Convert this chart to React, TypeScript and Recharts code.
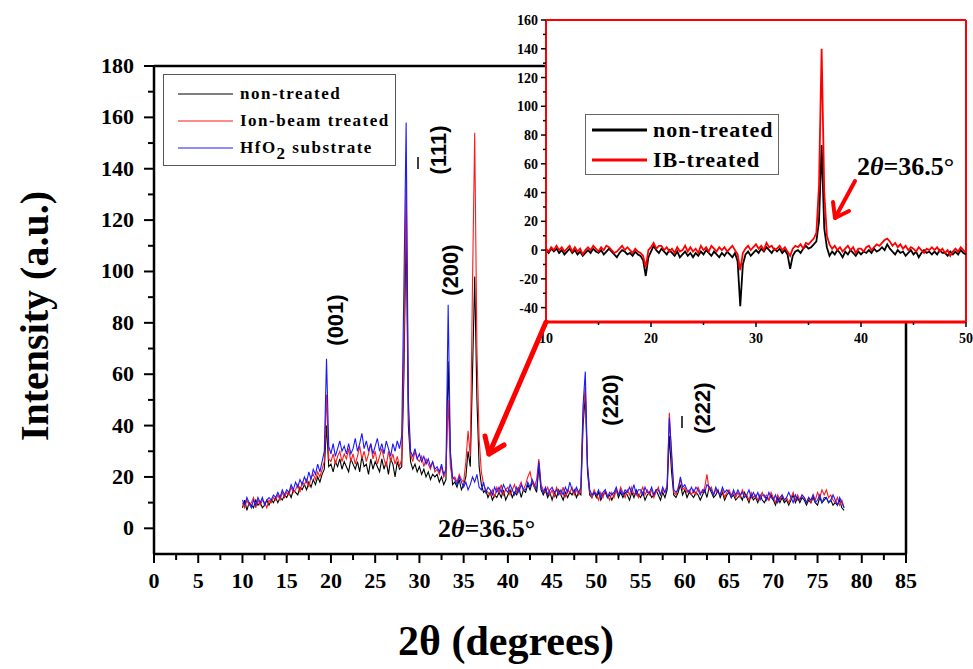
import React from 'react';
import { LineChart, Line, XAxis, YAxis, ReferenceLine, Legend } from 'recharts';

const SERIF = '"Liberation Serif", "Times New Roman", serif';
const SANS = '"Liberation Sans", Arial, sans-serif';

// 2θ scan grid: starts at 10°, one reading every 0.25°
const scanStart = 10;
const scanStep = 0.25;

// main panel, 10° .. 78°
const nonTreated = [
  8, 11, 7, 10, 9, 8, 11, 9,
  10, 8, 9, 11, 9, 11, 10, 12,
  10, 12, 11, 13, 12, 14, 12, 15,
  14, 13, 16, 15, 17, 15, 18, 16,
  19, 17, 20, 18, 21, 23, 40, 24,
  25, 22, 26, 24, 27, 23, 26, 24,
  22, 27, 25, 23, 26, 22, 28, 24,
  25, 21, 27, 23, 26, 24, 22, 27,
  23, 26, 21, 27, 25, 20, 26, 23,
  24, 60, 118, 40, 26, 23, 25, 22,
  24, 21, 23, 20, 22, 19, 21, 20,
  21, 18, 20, 17, 19, 65, 28, 17,
  18, 16, 19, 15, 17, 20, 30, 24,
  60, 98, 50, 24, 17, 14, 15, 12,
  14, 11, 13, 12, 14, 12, 15, 11,
  13, 15, 12, 14, 13, 16, 12, 15,
  14, 17, 15, 18, 16, 14, 24, 15,
  13, 15, 12, 14, 11, 14, 12, 15,
  13, 11, 14, 12, 14, 13, 15, 12,
  14, 13, 40, 52, 22, 13, 12, 14,
  12, 14, 11, 13, 14, 12, 13, 11,
  13, 15, 12, 14, 12, 14, 13, 11,
  14, 12, 15, 13, 12, 14, 11, 13,
  14, 12, 13, 15, 13, 11, 14, 12,
  15, 36, 22, 13, 12, 14, 17, 13,
  15, 12, 14, 13, 12, 14, 13, 11,
  13, 15, 12, 16, 14, 12, 13, 15,
  12, 14, 11, 13, 14, 12, 13, 11,
  12, 13, 11, 14, 12, 10, 13, 11,
  12, 10, 13, 11, 10, 12, 11, 13,
  11, 9, 12, 10, 12, 10, 11, 9,
  11, 13, 10, 12, 10, 12, 11, 9,
  11, 10, 12, 10, 9, 12, 10, 11,
  12, 10, 11, 9, 10, 9, 11, 8,
  7,
];

const ionBeamTreated = [
  10, 8, 11, 9, 10, 12, 8, 11,
  9, 11, 10, 8, 11, 10, 12, 11,
  13, 11, 14, 12, 14, 13, 16, 14,
  15, 17, 14, 18, 17, 19, 16, 20,
  21, 19, 22, 20, 23, 26, 52, 27,
  26, 29, 25, 28, 30, 26, 29, 27,
  31, 26, 29, 25, 28, 32, 27, 30,
  26, 29, 33, 27, 30, 25, 28, 31,
  27, 24, 30, 26, 29, 25, 28, 24,
  27, 70, 137, 45, 29, 26, 30, 27,
  26, 28, 24, 27, 25, 23, 26, 22,
  23, 21, 24, 20, 22, 50, 24, 19,
  20, 18, 21, 19, 18, 26, 38, 28,
  95, 154, 70, 35, 22, 17, 15, 14,
  13, 15, 12, 16, 14, 17, 13, 15,
  16, 13, 15, 17, 14, 16, 18, 15,
  17, 20, 22, 18, 16, 19, 27, 17,
  15, 14, 16, 13, 15, 12, 16, 14,
  13, 16, 12, 15, 14, 16, 13, 15,
  13, 15, 45, 55, 25, 14, 12, 15,
  13, 11, 14, 12, 15, 13, 11, 14,
  12, 15, 13, 16, 14, 12, 15, 13,
  16, 13, 14, 12, 14, 16, 13, 15,
  13, 15, 12, 14, 16, 13, 15, 14,
  17, 45, 28, 14, 13, 16, 19, 15,
  16, 14, 15, 13, 15, 13, 16, 14,
  14, 16, 21, 15, 16, 13, 15, 14,
  13, 15, 12, 14, 15, 13, 14, 12,
  14, 12, 15, 13, 13, 11, 14, 12,
  13, 11, 12, 14, 12, 13, 11, 14,
  12, 10, 13, 11, 13, 11, 12, 10,
  12, 14, 11, 13, 11, 13, 12, 10,
  12, 10, 13, 11, 14, 12, 15, 13,
  15, 12, 13, 11, 10, 12, 9, 11,
  8,
];

const hfo2Substrate = [
  11, 9, 12, 10, 8, 11, 9, 12,
  10, 12, 9, 11, 12, 11, 13, 12,
  14, 12, 15, 13, 15, 14, 17, 15,
  18, 16, 19, 17, 20, 18, 22, 19,
  23, 21, 25, 22, 26, 30, 66, 32,
  29, 33, 28, 31, 34, 30, 32, 29,
  33, 29, 31, 35, 30, 33, 37, 31,
  34, 30, 33, 29, 32, 35, 30, 33,
  29, 34, 31, 28, 33, 30, 34, 31,
  36, 95, 158, 50, 30, 28, 31, 27,
  29, 26, 28, 25, 27, 24, 26, 23,
  24, 22, 25, 21, 23, 87, 30, 20,
  19, 17, 20, 18, 16, 18, 15, 17,
  20, 18, 21, 16, 15, 18, 14, 16,
  15, 13, 16, 14, 16, 14, 17, 15,
  14, 17, 15, 13, 16, 14, 17, 15,
  15, 18, 16, 19, 17, 15, 26, 16,
  14, 16, 13, 15, 16, 14, 15, 13,
  15, 13, 16, 14, 18, 15, 14, 16,
  14, 16, 48, 61, 24, 15, 13, 14,
  13, 15, 12, 14, 15, 12, 14, 13,
  14, 16, 13, 15, 13, 15, 14, 16,
  14, 17, 13, 15, 15, 13, 16, 14,
  14, 16, 13, 15, 15, 13, 16, 14,
  16, 43, 30, 15, 14, 15, 20, 16,
  17, 15, 14, 16, 14, 16, 15, 13,
  15, 14, 17, 16, 15, 13, 16, 14,
  13, 16, 14, 15, 14, 12, 15, 13,
  15, 13, 14, 12, 13, 15, 12, 14,
  12, 14, 11, 13, 13, 11, 14, 12,
  11, 13, 10, 12, 13, 11, 12, 14,
  12, 10, 13, 11, 11, 13, 12, 10,
  12, 11, 13, 10, 11, 13, 10, 12,
  12, 10, 11, 13, 11, 9, 12, 10,
  8,
];

// inset, background-subtracted, 10° .. 50°
const insetNonTreated = [
  0, -2, 1, -1, 1, -2, 0, -3,
  -1, 1, -2, 0, -3, -1, -4, -2,
  0, -2, 1, -1, -2, 0, -3, -1,
  1, -1, -3, -5, -2, 0, -1, -3,
  -2, -4, -1, -3, -4, -7, -18, -5,
  -1, 3, 0, -2, 1, -1, -3, 0,
  -2, -4, -1, -5, -3, -1, -4, -2,
  -5, -2, -4, -1, -3, 0, -2, -4,
  -1, -3, -5, -2, -4, -1, -3, -5,
  -2, -8, -39, -10, -3, -1, -4, -2,
  0, -2, 1, -1, 2, 0, -2, 1,
  -1, 1, -2, 0, -3, -13, -4, -1,
  0, -2, 1, 3, 1, 2, 4, 6,
  20, 73, 15, 2, -4, -1, -3, 0,
  -2, -5, -1, -3, 0, -2, -4, -1,
  -3, -1, -2, 0, -2, 1, -1, 0,
  2, 0, 4, 1, -1, -3, 0, -2,
  -1, -4, -2, 0, -3, -1, -5, -2,
  0, -2, -1, -3, -1, -3, 0, -2,
  -2, -4, -1, -3, -1, -3, 0, -2,
  -3,
];

const insetIBTreated = [
  1, -1, 2, 0, 3, 0, 2, -1,
  1, 3, -1, 2, -1, 1, -3, 0,
  2, 0, 3, 1, -1, 2, 0, 3,
  2, 0, -2, -1, 1, 3, 0, 2,
  0, -2, 1, -1, -2, -4, -12, 0,
  2, 5, 1, 3, 3, 0, 2, -1,
  1, -2, 2, -1, 0, 3, -1, 2,
  -1, 1, -2, 3, 0, 2, -1, 3,
  1, -1, 2, 0, 2, -1, 1, 3,
  0, -3, -14, -2, 1, 3, 0, 2,
  4, 1, 3, 0, 5, 2, 3, 0,
  1, 3, 0, 2, -1, -4, 1, 3,
  2, 4, 1, 5, 4, 6, 8, 12,
  45, 140, 40, 10, 4, 1, 3, 0,
  2, -1, 1, 3, 0, 2, -2, 1,
  1, -1, 2, 3, 0, 2, 4, 3,
  5, 7, 8, 6, 3, 5, 2, 4,
  1, 3, 0, 2, 1, -1, 2, 0,
  -2, 1, 0, 2, 0, 2, -1, 1,
  -2, 0, -4, -1, 1, -1, 2, 0,
  -2,
];

const mainSeriesOrder = ['non-treated', 'Ion-beam treated', 'HfO2 substrate'];
const insetSeriesOrder = ['non-treated', 'IB-treated'];

const mainXTicks = [0, 2.5, 5, 7.5, 10, 12.5, 15, 17.5, 20, 22.5, 25, 27.5, 30, 32.5, 35, 37.5, 40, 42.5, 45, 47.5, 50, 52.5, 55, 57.5, 60, 62.5, 65, 67.5, 70, 72.5, 75, 77.5, 80, 82.5, 85];
const mainYTicks = [0, 10, 20, 30, 40, 50, 60, 70, 80, 90, 100, 110, 120, 130, 140, 150, 160, 170, 180];
const insetXTicks = [10, 15, 20, 25, 30, 35, 40, 45, 50];
const insetYTicks = [-40, -30, -20, -10, 0, 10, 20, 30, 40, 50, 60, 70, 80, 90, 100, 110, 120, 130, 140, 150, 160];

const mainData = nonTreated.map((v, i) => ({
  x: scanStart + i * scanStep,
  nonTreated: v,
  ionBeam: ionBeamTreated[i],
  hfo2: hfo2Substrate[i],
}));

const insetData = insetNonTreated.map((v, i) => ({
  x: scanStart + i * scanStep,
  nonTreated: v,
  ibTreated: insetIBTreated[i],
}));

const MainXTick = ({ x, y, payload }: any) => {
  const major = payload.value % 5 === 0;
  return (
    <g>
      <line x1={x} x2={x} y1={y} y2={y + (major ? 9 : 6)} stroke="#000" strokeWidth={2} />
      {major && (
        <text x={x} y={y + 34} textAnchor="middle" style={{ fontFamily: SERIF, fontWeight: 'bold', fontSize: 22 }} fill="#000">
          {payload.value}
        </text>
      )}
    </g>
  );
};

const MainYTick = ({ x, y, payload }: any) => {
  const major = payload.value % 20 === 0;
  return (
    <g>
      <line x1={x} x2={x - (major ? 10 : 6)} y1={y} y2={y} stroke="#000" strokeWidth={2} />
      {major && (
        <text x={x - 20} y={y + 7} textAnchor="end" style={{ fontFamily: SERIF, fontWeight: 'bold', fontSize: 22 }} fill="#000">
          {payload.value}
        </text>
      )}
    </g>
  );
};

const InsetXTick = ({ x, y, payload }: any) => {
  const major = payload.value % 10 === 0;
  return (
    <g>
      <line x1={x} x2={x} y1={y} y2={y + (major ? 5 : 3)} stroke="#000" strokeWidth={1.5} />
      {major && (
        <text x={x} y={y + 21} textAnchor="middle" style={{ fontFamily: SERIF, fontWeight: 'bold', fontSize: 14 }} fill="#000">
          {payload.value}
        </text>
      )}
    </g>
  );
};

const InsetYTick = ({ x, y, payload }: any) => {
  const major = payload.value % 20 === 0;
  return (
    <g>
      <line x1={x} x2={x - (major ? 5 : 3)} y1={y} y2={y} stroke="#000" strokeWidth={1.5} />
      {major && (
        <text x={x - 8} y={y + 5} textAnchor="end" style={{ fontFamily: SERIF, fontWeight: 'bold', fontSize: 14 }} fill="#000">
          {payload.value}
        </text>
      )}
    </g>
  );
};

const legendName = (name: string) =>
  name === 'HfO2 substrate' ? (
    <>
      HfO<sub style={{ fontSize: 17, lineHeight: 0, verticalAlign: '-6px' }}>2</sub> substrate
    </>
  ) : (
    name
  );

const ordered = (payload: any[], order: string[]) =>
  [...(payload || [])].sort((a, b) => order.indexOf(a.value) - order.indexOf(b.value));

const MainLegend = ({ payload }: any) => (
  <div style={{ width: 233, height: 92, boxSizing: 'border-box', border: '1px solid #555', background: '#fff', paddingTop: 5 }}>
    {ordered(payload, mainSeriesOrder).map((e: any) => (
      <div key={e.value} style={{ display: 'flex', alignItems: 'center', height: 27 }}>
        <svg width={76} height={10} style={{ flex: 'none' }}>
          <line x1={14} x2={69} y1={5} y2={5} stroke={e.color} strokeWidth={1.2} />
        </svg>
        <span style={{ fontFamily: SERIF, fontWeight: 'bold', fontSize: 17, letterSpacing: 1.5, whiteSpace: 'nowrap', color: '#000' }}>
          {legendName(e.value)}
        </span>
      </div>
    ))}
  </div>
);

const InsetLegend = ({ payload }: any) => (
  <div style={{ width: 194, height: 61, boxSizing: 'border-box', border: '1px solid #666', background: '#fff' }}>
    {ordered(payload, insetSeriesOrder).map((e: any) => (
      <div key={e.value} style={{ display: 'flex', alignItems: 'center', height: 30 }}>
        <svg width={67} height={10} style={{ flex: 'none' }}>
          <line x1={6} x2={61} y1={5} y2={5} stroke={e.color} strokeWidth={3} />
        </svg>
        <span style={{ fontFamily: SERIF, fontWeight: 'bold', fontSize: 22, letterSpacing: 1, whiteSpace: 'nowrap', color: '#000' }}>
          {e.value}
        </span>
      </div>
    ))}
  </div>
);

const peakLabel = (text: string, cx: number, cy: number) => (
  <text
    x={cx}
    y={cy}
    transform={`rotate(-90 ${cx} ${cy})`}
    textAnchor="middle"
    dominantBaseline="central"
    fontFamily={SANS}
    fontWeight="bold"
    fontSize={22}
    fill="#000"
  >
    {text}
  </text>
);

const App = () => {
  return (
    <div style={{ position: 'absolute', left: 0, top: 0, width: 973, height: 669, background: '#fff' }}>
      <div style={{ position: 'absolute', left: 0, top: 0 }}>
        <LineChart width={973} height={669} data={mainData} margin={{ top: 66, right: 67, bottom: 85, left: 94 }}>
          <XAxis
            dataKey="x"
            type="number"
            domain={[0, 85]}
            ticks={mainXTicks}
            interval={0}
            tick={<MainXTick />}
            tickLine={false}
            tickSize={0}
            tickMargin={0}
            height={30}
            axisLine={{ stroke: '#000', strokeWidth: 2.5 }}
          />
          <YAxis
            type="number"
            domain={[-10, 180]}
            ticks={mainYTicks}
            interval={0}
            tick={<MainYTick />}
            tickLine={false}
            tickSize={0}
            tickMargin={0}
            width={60}
            axisLine={{ stroke: '#000', strokeWidth: 2.5 }}
          />
          <ReferenceLine y={180} stroke="#000" strokeWidth={2.5} />
          <ReferenceLine x={85} stroke="#000" strokeWidth={2.5} />
          <Line type="linear" dataKey="nonTreated" name="non-treated" stroke="#000000" strokeWidth={1.1} dot={false} isAnimationActive={false} />
          <Line type="linear" dataKey="ionBeam" name="Ion-beam treated" stroke="#ff1a1a" strokeWidth={1.1} dot={false} isAnimationActive={false} />
          <Line type="linear" dataKey="hfo2" name="HfO2 substrate" stroke="#1a1aff" strokeWidth={1.1} dot={false} isAnimationActive={false} />
          <Legend
            layout="vertical"
            align="center"
            verticalAlign="middle"
            content={MainLegend}
            wrapperStyle={{ left: 163, top: 74, width: 233, height: 92 }}
          />
        </LineChart>
      </div>

      {/* white background for the inset plot area */}
      <div style={{ position: 'absolute', left: 546, top: 20, width: 420, height: 302, background: '#fff' }} />

      <div style={{ position: 'absolute', left: 0, top: 0 }}>
        <LineChart width={973} height={345} data={insetData} margin={{ top: 20, right: 7, bottom: 3, left: 506 }}>
          <XAxis
            dataKey="x"
            type="number"
            domain={[10, 50]}
            ticks={insetXTicks}
            interval={0}
            tick={<InsetXTick />}
            tickLine={false}
            tickSize={0}
            tickMargin={0}
            height={20}
            axisLine={{ stroke: '#ff0000', strokeWidth: 3 }}
          />
          <YAxis
            type="number"
            domain={[-50, 160]}
            ticks={insetYTicks}
            interval={0}
            tick={<InsetYTick />}
            tickLine={false}
            tickSize={0}
            tickMargin={0}
            width={40}
            axisLine={{ stroke: '#ff0000', strokeWidth: 2 }}
          />
          <ReferenceLine y={160} stroke="#ff0000" strokeWidth={2} />
          <ReferenceLine x={50} stroke="#ff0000" strokeWidth={2} />
          <Line type="linear" dataKey="nonTreated" name="non-treated" stroke="#000000" strokeWidth={1.8} dot={false} isAnimationActive={false} />
          <Line type="linear" dataKey="ibTreated" name="IB-treated" stroke="#ff0000" strokeWidth={1.8} dot={false} isAnimationActive={false} />
          <Legend
            layout="vertical"
            align="center"
            verticalAlign="middle"
            content={InsetLegend}
            wrapperStyle={{ left: 585, top: 114, width: 194, height: 61 }}
          />
        </LineChart>
      </div>

      <svg width={973} height={669} style={{ position: 'absolute', left: 0, top: 0, pointerEvents: 'none' }}>
        <text
          x={48}
          y={316}
          transform="rotate(-90 48 316)"
          textAnchor="middle"
          fontFamily={SERIF}
          fontWeight="bold"
          fontSize={40}
          fill="#000"
        >
          Intensity (a.u.)
        </text>
        <text x={506} y={655} textAnchor="middle" fontFamily={SERIF} fontWeight="bold" fontSize={42} fill="#000">
          2θ (degrees)
        </text>

        {peakLabel('(001)', 335, 320)}
        {peakLabel('(111)', 438, 150)}
        <line x1={418} x2={418} y1={157} y2={169} stroke="#000" strokeWidth={1.5} />
        {peakLabel('(200)', 450, 270)}
        {peakLabel('(220)', 610, 400)}
        {peakLabel('(222)', 702, 408)}
        <line x1={682} x2={682} y1={416} y2={428} stroke="#000" strokeWidth={1.5} />

        <text x={438} y={537} fontFamily={SERIF} fontWeight="bold" fontSize={26} fill="#000">
          2<tspan fontStyle="italic">θ</tspan>=36.5°
        </text>
        <text x={857} y={175} fontFamily={SERIF} fontWeight="bold" fontSize={26} fill="#000">
          2<tspan fontStyle="italic">θ</tspan>=36.5°
        </text>

        <g stroke="#ff0000" fill="none" strokeLinecap="round" strokeLinejoin="round">
          <line x1={546} y1={322} x2={489} y2={454} strokeWidth={5} />
          <polyline points="485,436 489,454 504,445" strokeWidth={5} />
          <line x1={855} y1={181} x2={835} y2={218} strokeWidth={4} />
          <polyline points="833,202 835,218 849,211" strokeWidth={4} />
        </g>
      </svg>
    </div>
  );
};

export default App;
